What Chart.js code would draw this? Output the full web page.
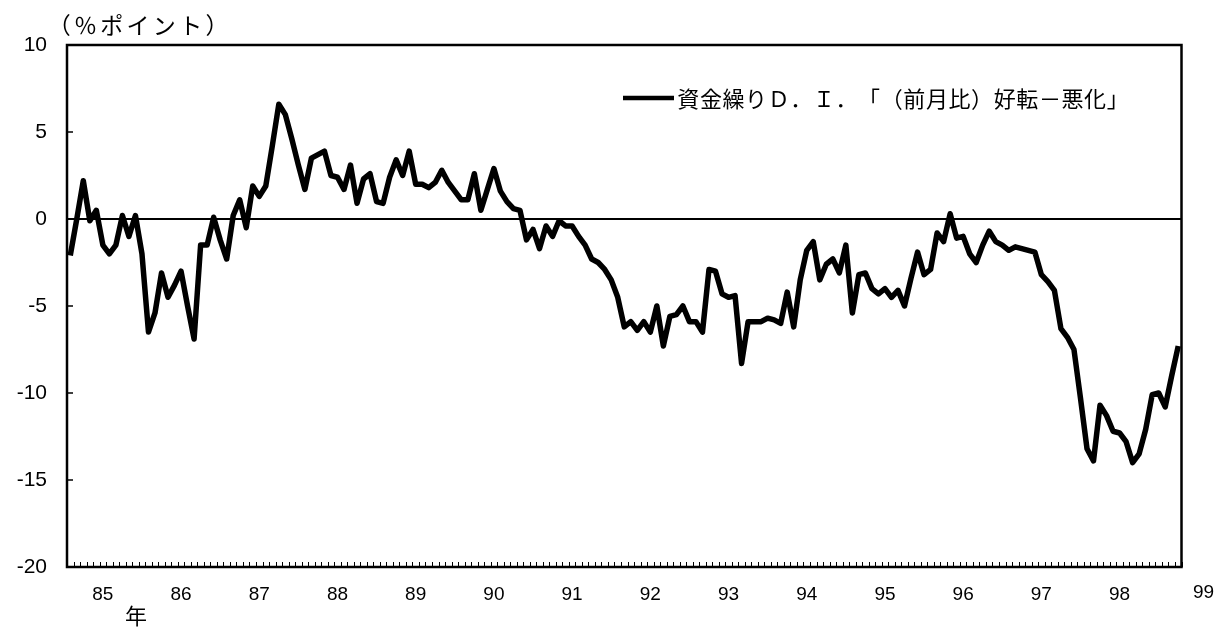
<!DOCTYPE html>
<html>
<head>
<meta charset="utf-8">
<script src="https://cdn.jsdelivr.net/npm/chart.js@4/dist/chart.umd.min.js"></script>
<style>
  body { margin: 0; background: #fff; }
  #wrap { width: 1216px; height: 629px; position: relative; }
</style>
</head>
<body>
<div id="wrap"><canvas id="diChart"></canvas></div>
<script>
// 資金繰りD.I. monthly, from 1985/01
var years = ['85', '86', '87', '88', '89', '90', '91', '92', '93', '94', '95', '96', '97', '98', '99'];
var diValues = [
  -2.1, 0.0, 2.2, -0.1, 0.5, -1.5, -2.0, -1.5, 0.2, -1.0, 0.2, -2.0,
  -6.5, -5.4, -3.1, -4.5, -3.8, -3.0, -5.0, -6.9, -1.5, -1.5, 0.1, -1.2,
  -2.3, 0.2, 1.1, -0.5, 1.9, 1.3, 1.9, 4.2, 6.6, 6.0, 4.6, 3.1,
  1.7, 3.5, 3.7, 3.9, 2.5, 2.4, 1.7, 3.1, 0.9, 2.3, 2.6, 1.0,
  0.9, 2.4, 3.4, 2.5, 3.9, 2.0, 2.0, 1.8, 2.1, 2.8, 2.1, 1.6,
  1.1, 1.1, 2.6, 0.5, 1.7, 2.9, 1.6, 1.0, 0.6, 0.5, -1.2, -0.6,
  -1.7, -0.4, -1.0, -0.1, -0.4, -0.4, -1.0, -1.5, -2.3, -2.5, -2.9, -3.5,
  -4.5, -6.2, -5.9, -6.4, -5.9, -6.5, -5.0, -7.3, -5.6, -5.5, -5.0, -5.9,
  -5.9, -6.5, -2.9, -3.0, -4.3, -4.5, -4.4, -8.3, -5.9, -5.9, -5.9, -5.7,
  -5.8, -6.0, -4.2, -6.2, -3.5, -1.8, -1.3, -3.5, -2.6, -2.3, -3.1, -1.5,
  -5.4, -3.2, -3.1, -4.0, -4.3, -4.0, -4.5, -4.1, -5.0, -3.4, -1.9, -3.2,
  -2.9, -0.8, -1.3, 0.3, -1.1, -1.0, -2.0, -2.5, -1.5, -0.7, -1.3, -1.5,
  -1.8, -1.6, -1.7, -1.8, -1.9, -3.2, -3.6, -4.1, -6.3, -6.8, -7.5, -10.3,
  -13.2, -13.9, -10.7, -11.3, -12.2, -12.3, -12.8, -14.0, -13.5, -12.1, -10.1, -10.0,
  -10.8, -9.0, -7.3
];
var yTicks = [-20, -15, -10, -5, 0, 5, 10];
var labelMonth = 5; // year label sits on the 6th month of each year

var months = [];
for (var i = 0; i < diValues.length; i++) {
  var yr = years[Math.floor(i / 12)];
  var m = (i % 12) + 1;
  months.push(yr + '/' + (m < 10 ? '0' + m : m));
}

var seriesLabel = '資金繰りＤ．Ｉ．「（前月比）好転－悪化」';
var unitLabel = '（％ポイント）';

// full-width text, one character per fixed cell (no contextual squeezing)
function drawCells(ctx, text, x, y, cell) {
  Array.from(text).forEach(function (ch, k) {
    var w = ctx.measureText(ch).width;
    var cx = x + k * cell;
    var dx = (cell - w) / 2;
    if (w < cell * 0.8) {
      if ('（「'.indexOf(ch) >= 0) dx = cell - w - 2;   // opening: right side of cell
      if ('）」'.indexOf(ch) >= 0) dx = 2;              // closing: left side of cell
    }
    ctx.fillText(ch, cx + dx, y);
  });
}

// ticks inside the frame, box, legend and free texts
var decorPlugin = {
  id: 'decor',
  afterDraw: function (chart) {
    var ctx = chart.ctx;
    var a = chart.chartArea;
    var xs = chart.scales.x;
    var ys = chart.scales.y;
    ctx.save();
    ctx.strokeStyle = '#000';

    // month ticks
    ctx.lineWidth = 1;
    var step = xs.getPixelForValue(1) - xs.getPixelForValue(0);
    for (var i = 0; i <= months.length; i++) {
      var px = Math.round(xs.getPixelForValue(i) - step / 2) + 0.5;
      ctx.beginPath();
      ctx.moveTo(px, a.bottom);
      ctx.lineTo(px, a.bottom - 5);
      ctx.stroke();
    }
    // value ticks
    ctx.lineWidth = 1.5;
    yTicks.forEach(function (v) {
      var py = ys.getPixelForValue(v);
      ctx.beginPath();
      ctx.moveTo(a.left, py);
      ctx.lineTo(a.left + 6, py);
      ctx.stroke();
    });

    // frame
    ctx.lineWidth = 2.5;
    ctx.strokeRect(a.left, a.top, a.right - a.left, a.bottom - a.top);

    // legend
    ctx.lineWidth = 4.5;
    ctx.beginPath();
    ctx.moveTo(623, 98);
    ctx.lineTo(674, 98);
    ctx.stroke();
    ctx.fillStyle = '#000';
    ctx.textBaseline = 'middle';
    ctx.textAlign = 'left';
    ctx.font = '22px "Noto Sans CJK JP"';
    drawCells(ctx, seriesLabel, 677, 99, 22.6);

    // unit caption
    ctx.font = '23px "Noto Sans CJK JP"';
    drawCells(ctx, unitLabel, 46, 25, 26.3);
    // year caption
    ctx.font = '22px "Noto Sans CJK JP"';
    ctx.textAlign = 'center';
    ctx.fillText('年', 136, 616);

    // last year label, outside the frame
    ctx.font = '19px "Liberation Sans Narrow", "Liberation Sans", Arial, sans-serif';
    ctx.fillText(years[years.length - 1], a.right + 22, 593);
    ctx.restore();
  }
};

var ctxDI = document.getElementById('diChart').getContext('2d');
var diChart = new Chart(ctxDI, {
  type: 'line',
  data: {
    labels: months,
    datasets: [{
      label: seriesLabel,
      data: diValues,
      borderColor: '#000',
      borderWidth: 5.5,
      borderJoinStyle: 'round',
      pointRadius: 0,
      tension: 0,
      fill: false
    }]
  },
  options: {
    responsive: true,
    maintainAspectRatio: false,
    animation: false,
    layout: { padding: { top: 45, right: 34.5, left: 0, bottom: 0 } },
    plugins: {
      legend: { display: false },
      tooltip: { enabled: false }
    },
    scales: {
      x: {
        type: 'category',
        offset: true,
        grid: { display: false, drawTicks: false },
        border: { display: false },
        afterFit: function (s) { s.height = 62; },
        ticks: {
          autoSkip: false,
          maxRotation: 0,
          padding: 16,
          color: '#000',
          font: { family: '"Liberation Sans Narrow", "Liberation Sans", Arial, sans-serif', size: 19 },
          callback: function (val, idx) {
            return idx % 12 === labelMonth ? years[Math.floor(idx / 12)] : '';
          }
        }
      },
      y: {
        min: -20,
        max: 10,
        afterFit: function (s) { s.width = 67; },
        afterBuildTicks: function (s) {
          s.ticks = yTicks.map(function (v) { return { value: v }; });
        },
        border: { display: false },
        grid: {
          drawTicks: false,
          lineWidth: 2,
          color: function (c) { return c.tick && c.tick.value === 0 ? '#000' : 'rgba(0,0,0,0)'; }
        },
        ticks: {
          padding: 20,
          color: '#000',
          font: { family: '"Liberation Sans", Arial, sans-serif', size: 21 }
        }
      }
    }
  },
  plugins: [decorPlugin]
});
</script>
</body>
</html>
